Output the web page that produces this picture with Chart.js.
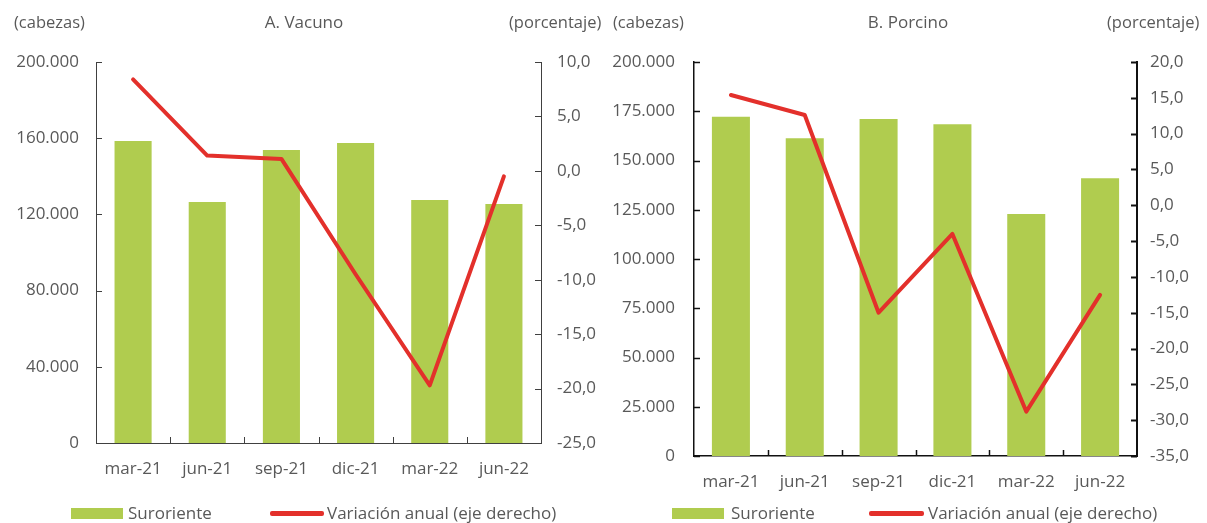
<!DOCTYPE html>
<html lang="es">
<head>
<meta charset="utf-8">
<title>Suroriente: inventario de ganado</title>
<script src="https://cdn.jsdelivr.net/npm/chart.js@4.4.1/dist/chart.umd.min.js"></script>
<style>
  html, body { margin: 0; padding: 0; background: #fff; }
  body { width: 1207px; height: 523px; position: relative; overflow: hidden;
         font-family: 'Open Sans', sans-serif; color: #595959; }
  .panel { position: absolute; top: 0; height: 523px; }
  .panel canvas { position: absolute; left: 0; top: 0; }
  .txt { position: absolute; font-size: 17px; line-height: 22px; white-space: nowrap; }
  .unit { font-size: 16.5px; }
  .title { transform: translateX(-50%); }
  .swatch { position: absolute; }
</style>
</head>
<body>

<div class="panel" id="panelA" style="left:0; width:600px;">
  <canvas id="chartA" width="600" height="523"></canvas>
  <div class="txt unit" style="left:14px; top:11px;">(cabezas)</div>
  <div class="txt title" style="left:304px; top:11px;">A. Vacuno</div>
  <div class="txt unit" style="left:509px; top:11px;">(porcentaje)</div>
  <div class="swatch" style="left:71px; top:508px; width:52px; height:11px; background:#b0cc4f;"></div>
  <div class="txt" style="left:128px; top:502px;">Suroriente</div>
  <div class="swatch" style="left:270px; top:511px; width:54px; height:5px; border-radius:2px; background:#e3302b;"></div>
  <div class="txt" style="left:327px; top:502px;">Variación anual (eje derecho)</div>
</div>

<div class="panel" id="panelB" style="left:600px; width:607px;">
  <canvas id="chartB" width="607" height="523"></canvas>
  <div class="txt unit" style="left:13px; top:11px;">(cabezas)</div>
  <div class="txt title" style="left:308px; top:11px;">B. Porcino</div>
  <div class="txt unit" style="left:507px; top:11px;">(porcentaje)</div>
  <div class="swatch" style="left:72px; top:508px; width:52px; height:11px; background:#b0cc4f;"></div>
  <div class="txt" style="left:131px; top:502px;">Suroriente</div>
  <div class="swatch" style="left:269px; top:511px; width:55px; height:5px; border-radius:2px; background:#e3302b;"></div>
  <div class="txt" style="left:328px; top:502px;">Variación anual (eje derecho)</div>
</div>

<script>
// trimestres
const categories = ['mar-21', 'jun-21', 'sep-21', 'dic-21', 'mar-22', 'jun-22'];

// A. Vacuno
const vacunoCabezas = [158500, 126500, 153800, 157500, 127600, 125500];
const vacunoVariacion = [8.4, 1.4, 1.1, -9.5, -19.7, -0.5];
const vacunoTicksLeft = [0, 40000, 80000, 120000, 160000, 200000];
const vacunoTicksRight = [-25, -20, -15, -10, -5, 0, 5, 10];

// B. Porcino
const porcinoCabezas = [172200, 161300, 171100, 168400, 122800, 141000];
const porcinoVariacion = [15.4, 12.6, -15.0, -4.0, -28.8, -12.5];
const porcinoTicksLeft = [0, 25000, 50000, 75000, 100000, 125000, 150000, 175000, 200000];
const porcinoTicksRight = [-35, -30, -25, -20, -15, -10, -5, 0, 5, 10, 15, 20];

const GREEN = '#b0cc4f';
const RED = '#e3302b';
const TEXT = '#595959';
const FONT = { family: "'Open Sans', sans-serif", size: 17 };

const miles = v => String(v).replace(/\B(?=(\d{3})+(?!\d))/g, '.');
const pct = v => v.toFixed(1).replace('.', ',');

// tick marks pointing into the plot area (Excel style)
const innerTicks = {
    id: 'innerTicks',
    afterDraw(chart, args, opts) {
        const { ctx, chartArea, scales } = chart;
        const line = (x1, y1, x2, y2) => {
            ctx.beginPath();
            ctx.moveTo(x1, y1);
            ctx.lineTo(x2, y2);
            ctx.stroke();
        };
        ctx.save();
        ctx.strokeStyle = opts.color;

        ctx.lineWidth = opts.leftWidth;
        scales.y.ticks.forEach(t => {
            const py = Math.round(scales.y.getPixelForValue(t.value)) + 0.5;
            line(chartArea.left, py, chartArea.left + 6, py);
        });

        ctx.lineWidth = opts.rightWidth;
        scales.y1.ticks.forEach(t => {
            const py = Math.round(scales.y1.getPixelForValue(t.value)) + 0.5;
            line(chartArea.right - 6, py, chartArea.right, py);
        });

        ctx.lineWidth = opts.leftWidth;
        const step = (chartArea.right - chartArea.left) / categories.length;
        for (let i = 1; i < categories.length; i++) {
            const px = Math.round(chartArea.left + step * i) + 0.5;
            line(px, chartArea.bottom - 6, px, chartArea.bottom);
        }
        ctx.restore();
    }
};

function makeChart(canvas, cfg) {
    const H = canvas.height;
    const W = canvas.width;
    return new Chart(canvas, {
        data: {
            labels: categories,
            datasets: [
                {
                    type: 'line',
                    label: 'Variación anual (eje derecho)',
                    data: cfg.variacion,
                    yAxisID: 'y1',
                    borderColor: RED,
                    borderWidth: 4,
                    borderCapStyle: 'round',
                    borderJoinStyle: 'round',
                    pointRadius: 0,
                    tension: 0,
                    order: 1
                },
                {
                    type: 'bar',
                    label: 'Suroriente',
                    data: cfg.cabezas,
                    yAxisID: 'y',
                    backgroundColor: GREEN,
                    barPercentage: cfg.barPct,
                    categoryPercentage: 1,
                    order: 2
                }
            ]
        },
        options: {
            responsive: false,
            animation: false,
            layout: { padding: { top: 62, left: 0, right: 0, bottom: 0 } },
            plugins: {
                legend: { display: false },
                tooltip: { enabled: false },
                innerTicks: { color: cfg.axisColor, leftWidth: cfg.leftWidth, rightWidth: cfg.rightWidth }
            },
            scales: {
                x: {
                    grid: { display: false, drawTicks: false },
                    border: { display: true, color: cfg.axisColor, width: cfg.leftWidth },
                    ticks: { color: TEXT, font: FONT, padding: cfg.xPad, maxRotation: 0, autoSkip: false },
                    afterFit: s => { s.height = H - cfg.bottom; }
                },
                y: {
                    position: 'left',
                    min: 0,
                    max: cfg.ticksLeft[cfg.ticksLeft.length - 1],
                    grid: { display: false, drawTicks: false },
                    border: { display: true, color: cfg.axisColor, width: cfg.leftWidth },
                    ticks: { color: TEXT, font: FONT, padding: cfg.leftPad, callback: v => miles(v) },
                    afterBuildTicks: s => { s.ticks = cfg.ticksLeft.map(v => ({ value: v })); },
                    afterFit: s => { s.width = cfg.left; }
                },
                y1: {
                    position: 'right',
                    min: cfg.ticksRight[0],
                    max: cfg.ticksRight[cfg.ticksRight.length - 1],
                    grid: { display: false, drawTicks: false },
                    border: { display: true, color: cfg.axisColor, width: cfg.rightWidth },
                    ticks: { color: TEXT, font: FONT, padding: cfg.rightPad, callback: v => pct(v) },
                    afterBuildTicks: s => { s.ticks = cfg.ticksRight.map(v => ({ value: v })); },
                    afterFit: s => { s.width = W - cfg.right; }
                }
            }
        },
        plugins: [innerTicks]
    });
}

makeChart(document.getElementById('chartA'), {
    cabezas: vacunoCabezas,
    variacion: vacunoVariacion,
    ticksLeft: vacunoTicksLeft,
    ticksRight: vacunoTicksRight,
    left: 96, right: 541, bottom: 443,
    leftPad: 17, rightPad: 16, xPad: 16,
    barPct: 0.5,
    axisColor: '#404040', leftWidth: 1, rightWidth: 1
});

makeChart(document.getElementById('chartB'), {
    cabezas: porcinoCabezas,
    variacion: porcinoVariacion,
    ticksLeft: porcinoTicksLeft,
    ticksRight: porcinoTicksRight,
    left: 94, right: 537, bottom: 456,
    leftPad: 19, rightPad: 13, xPad: 16,
    barPct: 0.515,
    axisColor: '#111111', leftWidth: 1.5, rightWidth: 2
});
</script>
</body>
</html>
